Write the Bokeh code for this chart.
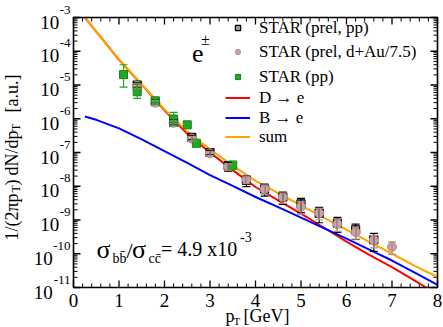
import math
from bokeh.plotting import figure
from bokeh.models import (ColumnDataSource, Whisker, TeeHead, Label, Legend, LegendItem, Range1d)
from bokeh.core.properties import value
from bokeh.embed import file_html
from bokeh.resources import INLINE

# ---------------- data ----------------
curve_pt = [0.25, 0.5, 1.0, 1.5, 2.0, 2.5, 3.0, 3.5, 4.0, 4.5, 5.0, 5.5, 6.0, 6.5, 7.0, 7.5, 8.0]
b_to_e = [1.17e-6, 9.3e-7, 5.2e-7, 2.45e-7, 1.1e-7, 4.9e-8, 2.14e-8, 1.02e-8, 4.8e-9, 2.4e-9,
          1.17e-9, 5.75e-10, 2.8e-10, 1.32e-10, 6.3e-11, 2.75e-11, 1.2e-11]
sum_e = [1.0e-3, 3.8e-4, 5.65e-5, 1.05e-5, 1.9e-6, 4.15e-7, 1.25e-7, 4.1e-8, 1.45e-8, 6.3e-9,
         2.7e-9, 1.18e-9, 5.1e-10, 2.25e-10, 1.0e-10, 4.4e-11, 2.05e-11]
d_pt = [0.25, 0.5, 1.0, 1.5, 2.0, 2.5, 3.0, 3.5, 4.0, 4.5, 5.0, 5.5, 6.0, 6.5, 7.0, 7.5, 7.75]
d_to_e = [1.0e-3, 3.8e-4, 5.6e-5, 1.02e-5, 1.78e-6, 3.6e-7, 1.0e-7, 3.0e-8, 9.5e-9, 3.8e-9,
          1.55e-9, 6.0e-10, 2.3e-10, 9.3e-11, 4.0e-11, 1.6e-11, 1.0e-11]

prel_pp_pt = [1.4, 1.8, 2.2, 2.6, 3.0, 3.4, 3.8, 4.2, 4.6, 5.0, 5.4, 5.8, 6.2, 6.6]
prel_pp_y = [1.0e-5, 3.2e-6, 7.9e-7, 2.8e-7, 1.0e-7, 4.0e-8, 1.5e-8, 8.3e-9, 4.8e-9, 3.0e-9,
             1.6e-9, 8.1e-10, 5.1e-10, 2.6e-10]
prel_pp_err = [1.5e-6, 3.8e-7, 1.2e-7, 4.2e-8, 1.5e-8, 1.2e-8, 5.3e-9, 3.2e-9, 1.9e-9, 1.35e-9,
               7.7e-10, 3.8e-10, 2.45e-10, 1.43e-10]

dau_pt = [1.4, 1.8, 2.2, 2.6, 3.0, 3.4, 3.8, 4.2, 4.6, 5.0, 5.4, 5.8, 6.2, 6.6, 7.0]
dau_y = [9.5e-6, 3.0e-6, 7.6e-7, 2.6e-7, 9.5e-8, 3.8e-8, 1.6e-8, 8.3e-9, 4.7e-9, 2.5e-9,
         1.6e-9, 7.6e-10, 4.4e-10, 2.5e-10, 1.6e-10]
dau_err = [1.4e-6, 4.5e-7, 1.1e-7, 3.9e-8, 1.4e-8, 8.0e-9, 4.0e-9, 2.5e-9, 1.6e-9, 1.0e-9,
           6.0e-10, 3.0e-10, 1.8e-10, 1.0e-10, 6.4e-11]

pp_pt = [1.1, 1.4, 1.8, 2.2, 2.5, 2.7, 3.5]
pp_y = [2.04e-5, 6.3e-6, 3.4e-6, 9.8e-7, 6.6e-7, 1.86e-7, 4.2e-8]
pp_hi = [3.98e-5, 1.05e-5, 4.0e-6, 1.55e-6, 7.3e-7, 2.45e-7, 5.6e-8]
pp_lo = [8.7e-6, 4.0e-6, 2.8e-6, 6.2e-7, 5.9e-7, 1.41e-7, 3.2e-8]

x_ticks = [0, 1, 2, 3, 4, 5, 6, 7, 8]
x_tick_labels = ["0", "1", "2", "3", "4", "5", "6", "7", "8"]
y_exponents = [-11, -10, -9, -8, -7, -6, -5, -4, -3]

legend_labels = ["STAR (prel, pp)", "STAR (prel, d+Au/7.5)", "STAR (pp)",
                 "D \u2192 e", "B \u2192 e", "sum"]

# ---------------- layout / styling ----------------
SERIF = "Liberation Serif"
C_RED, C_BLUE, C_ORANGE = "#ff0000", "#0000ff", "#ffa500"
C_BLACK_FILL = "#9a9a9a"
C_PINK, C_PINK_LINE = "#c9a3a3", "#b08c8c"
C_GREEN, C_GREEN_LINE = "#22a822", "#178017"

W, H = 443, 327
FRAME_L, FRAME_R, FRAME_T, FRAME_B = 73, 437, 17, 287   # plot box in page pixels

x0, x1 = x_ticks[0], x_ticks[-1]
ppx = (FRAME_R - FRAME_L) / (x1 - x0)
e0, e1 = y_exponents[0], y_exponents[-1]
ppd = (FRAME_B - FRAME_T) / (e1 - e0)
x_range = Range1d(x0 - FRAME_L / ppx, x1 + (W - FRAME_R) / ppx)
y_range = Range1d(10 ** (e0 - (H - FRAME_B) / ppd), 10 ** (e1 + FRAME_T / ppd))

p = figure(width=W, height=H, x_range=x_range, y_range=y_range, y_axis_type="log",
           x_axis_location=None, y_axis_location=None, min_border=0,
           output_backend="svg", toolbar_location=None)
p.grid.visible = False
p.outline_line_color = None
p.background_fill_color = "white"
p.border_fill_color = "white"

y_major = [10.0 ** e for e in y_exponents]
y_bot, y_top = y_major[0], y_major[-1]
x_minor = [x0 + 0.2 * i for i in range(1, 40) if i % 5]
y_minor = [k * 10.0 ** e for e in y_exponents[:-1] for k in range(2, 10)]

TICK = dict(line_color="black", length_units="screen")
# ticks pointing inwards on all four sides
p.ray(x=x_ticks, y=[y_bot] * len(x_ticks), length=7, angle=math.pi / 2, line_width=1.3, **TICK)
p.ray(x=x_ticks, y=[y_top] * len(x_ticks), length=7, angle=-math.pi / 2, line_width=1.3, **TICK)
p.ray(x=x_minor, y=[y_bot] * len(x_minor), length=4, angle=math.pi / 2, line_width=1, **TICK)
p.ray(x=x_minor, y=[y_top] * len(x_minor), length=4, angle=-math.pi / 2, line_width=1, **TICK)
p.ray(x=[x0] * len(y_major), y=y_major, length=7, angle=0, line_width=1.3, **TICK)
p.ray(x=[x1] * len(y_major), y=y_major, length=7, angle=math.pi, line_width=1.3, **TICK)
p.ray(x=[x0] * len(y_minor), y=y_minor, length=4, angle=0, line_width=1, **TICK)
p.ray(x=[x1] * len(y_minor), y=y_minor, length=4, angle=math.pi, line_width=1, **TICK)

# tick labels
p.text(x=x_ticks, y=[y_bot] * len(x_ticks), text=x_tick_labels, text_align="center",
       text_baseline="middle", y_offset=12.5, text_font=value(SERIF),
       text_font_size="19px", text_color="black")
exp_txt = [str(e) for e in y_exponents]
exp_w = [13 * (0.333 + 0.5 * (len(t) - 1)) for t in exp_txt]
src_yt = ColumnDataSource(dict(x=[x0] * len(y_major), y=y_major, exp=exp_txt,
                               ten=["10"] * len(y_major),
                               xo=[-3.5 - w for w in exp_w]))
p.text(x="x", y="y", text="exp", source=src_yt, text_align="right", text_baseline="middle",
       x_offset=-3, y_offset=-8, text_font=value(SERIF), text_font_size="13px",
       text_color="black")
p.text(x="x", y="y", text="ten", source=src_yt, text_align="right", text_baseline="middle",
       x_offset="xo", y_offset=4.5, text_font=value(SERIF), text_font_size="19px",
       text_color="black")

# ---------------- curves ----------------
r_d = p.line(d_pt, d_to_e, line_color=C_RED, line_width=2)
r_b = p.line(curve_pt, b_to_e, line_color=C_BLUE, line_width=2)
r_s = p.line(curve_pt, sum_e, line_color=C_ORANGE, line_width=2)

# ---------------- data points ----------------
src_b = ColumnDataSource(dict(x=prel_pp_pt, y=prel_pp_y,
                              lo=[v - e for v, e in zip(prel_pp_y, prel_pp_err)],
                              hi=[v + e for v, e in zip(prel_pp_y, prel_pp_err)]))
src_p = ColumnDataSource(dict(x=dau_pt, y=dau_y,
                              lo=[v - e for v, e in zip(dau_y, dau_err)],
                              hi=[v + e for v, e in zip(dau_y, dau_err)]))
src_g = ColumnDataSource(dict(x=pp_pt, y=pp_y, lo=pp_lo, hi=pp_hi))

def whisker(src, color):
    w = Whisker(source=src, base="x", lower="lo", upper="hi", dimension="height",
                line_color=color, line_width=1.2, level="glyph",
                upper_head=TeeHead(size=8, line_color=color, line_width=1.2),
                lower_head=TeeHead(size=8, line_color=color, line_width=1.2))
    p.add_layout(w)

whisker(src_b, "black")
r_black = p.scatter("x", "y", source=src_b, marker="square", size=8,
                    fill_color=C_BLACK_FILL, line_color="black", line_width=1.2)
whisker(src_p, C_PINK_LINE)
r_pink = p.scatter("x", "y", source=src_p, marker="circle", size=9,
                   fill_color=C_PINK, line_color=C_PINK_LINE, line_width=1)
whisker(src_g, C_GREEN)
r_green = p.scatter("x", "y", source=src_g, marker="square", size=8,
                    fill_color=C_GREEN, line_color=C_GREEN_LINE, line_width=1)

# plot box
p.quad(left=x0, right=x1, bottom=y_bot, top=y_top, fill_color=None,
       line_color="black", line_width=1.6)

# ---------------- legend (one entry per box, positioned individually) ----------------
rows = [(r_black, 27.3, True), (r_pink, 51.7, True), (r_green, 76, True),
        (r_d, 97.7, False), (r_b, 117.7, False), (r_s, 136, False)]
RH = 21
for (rend, cy, is_marker), lab in zip(rows, legend_labels):
    gw = 13 if is_marker else 25
    left = 231 if is_marker else 225
    lg = Legend(items=[LegendItem(label=lab, renderers=[rend])],
                location=(left, int(round(H - (cy + RH / 2)))),
                glyph_width=gw, glyph_height=RH, label_height=RH,
                label_standoff=int(259 - (left + gw)), padding=0, margin=0, spacing=0,
                border_line_color=None, background_fill_alpha=0,
                label_text_font=SERIF, label_text_font_size="17px",
                label_text_color="black")
    p.add_layout(lg)

def page_label(px, py, text, size, align="left", baseline="middle", angle=0.0):
    p.add_layout(Label(x=px, y=H - py, x_units="screen", y_units="screen",
                       text=text, text_font=SERIF, text_font_size=f"{size}px",
                       text_align=align, text_baseline=baseline, angle=angle,
                       text_color="black"))

# ---------------- axis titles ----------------
page_label(225, 315, "p", 18)
page_label(233, 320.5, "T", 11)
page_label(243, 315, "[GeV]", 18)

ang = math.pi / 2
page_label(11, 240, "1/(2\u03c0p", 18, angle=ang)
page_label(15.5, 192, "T", 12, angle=ang)
page_label(11, 185, ")", 18, angle=ang)
page_label(11, 175, "dN/dp", 18, angle=ang)
page_label(15.5, 130.5, "T", 12, angle=ang)
page_label(11, 112, "[a.u.]", 18, angle=ang)

# ---------------- annotations ----------------
page_label(191.5, 52.5, "e", 26)
page_label(200.5, 38.5, "\u00b1", 16)

page_label(96, 248.5, "\u03c3", 26, baseline="alphabetic")
page_label(112, 258, "bb\u0304", 14, baseline="alphabetic")
page_label(126, 250, "/", 22, baseline="alphabetic")
page_label(131.5, 248.5, "\u03c3", 26, baseline="alphabetic")
page_label(148, 258, "cc\u0304", 14, baseline="alphabetic")
page_label(160.5, 248.5, "= 4.9 x10", 20, baseline="alphabetic")
page_label(239.5, 236, "-3", 14, baseline="alphabetic")

open("out.html", "w").write(file_html(p, INLINE))
